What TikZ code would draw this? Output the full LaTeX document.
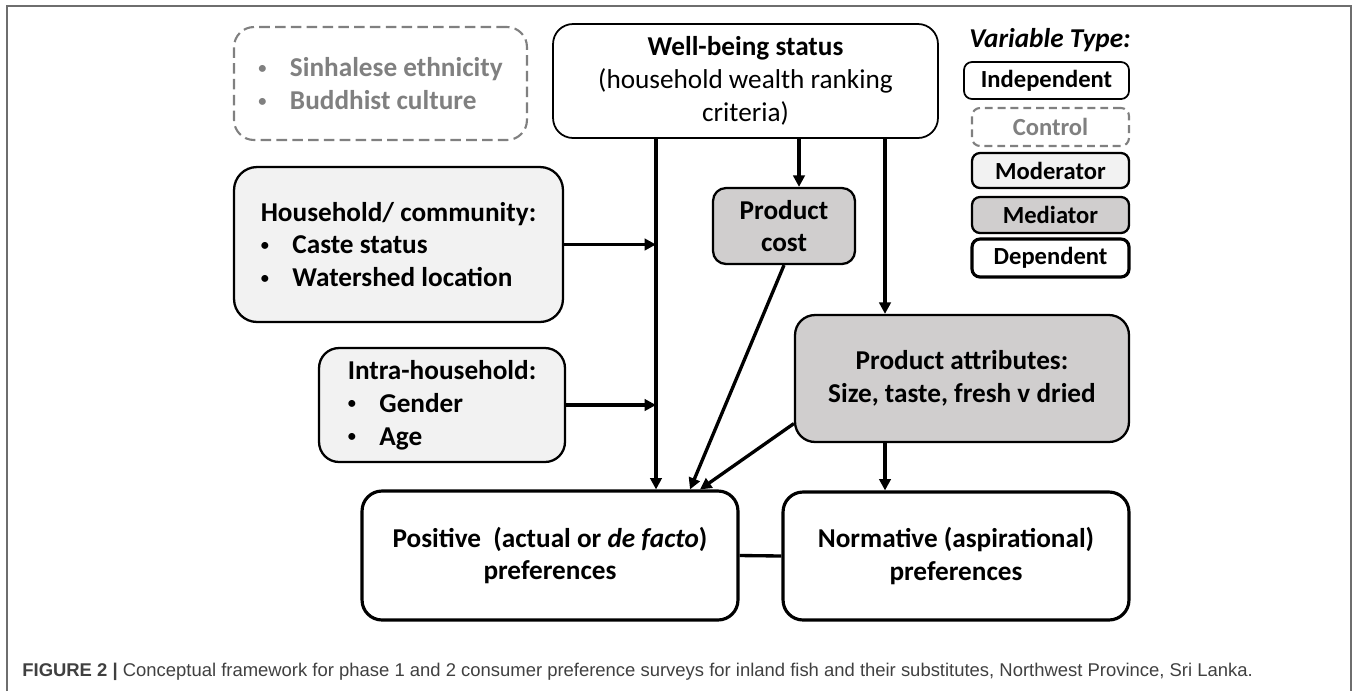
\documentclass[tikz,border=0pt]{standalone}
\usepackage{fontspec}
\usepackage{graphicx}
\setmainfont{Carlito}
\newfontfamily\capfont{Liberation Sans}
\usetikzlibrary{arrows.meta}

\definecolor{modfill}{RGB}{242,242,242}
\definecolor{medfill}{RGB}{208,206,206}
\definecolor{ctrlgray}{RGB}{128,128,128}
\definecolor{framegray}{RGB}{110,110,110}
\definecolor{captext}{RGB}{64,64,64}

\newcommand\bul{\makebox[18pt][l]{\raisebox{0.12em}{\scalebox{0.6}{\textbullet}}}}

\tikzset{
  box/.style={draw, rounded corners=0.4cm, inner sep=0pt, align=center,
    font=\fontsize{15.5}{18.7}\selectfont\bfseries},
  indepbox/.style={box, line width=1pt},
  ctrlbox/.style={box, draw=ctrlgray, text=ctrlgray, line width=1.2pt,
    dash pattern=on 6pt off 3pt},
  modbox/.style={box, fill=modfill, line width=1.3pt},
  medbox/.style={box, fill=medfill, line width=1.3pt},
  depbox/.style={box, line width=1.8pt},
  legend/.style={rounded corners=0.16cm, minimum width=3.14cm, minimum height=0.72cm,
    font=\fontsize{14}{16}\selectfont\bfseries},
  link/.style={line width=1.9pt},
}

\begin{document}
\begin{tikzpicture}[x=0.02cm, y=-0.02cm, >={Triangle[length=6.5pt,width=6.5pt]}]
  \useasboundingbox (0,0) rectangle (1358,691);
  \draw[framegray, line width=0.8pt] (7,691) -- (7,6) -- (1351,6) -- (1351,691);

  % variables
  \node[ctrlbox, align=left, minimum width=5.86cm, minimum height=2.26cm] (ctrl) at (380.5,83.5)
    {\bul Sinhalese ethnicity\\ \bul Buddhist culture};
  \node[indepbox, minimum width=7.70cm, minimum height=2.28cm] (well) at (745.5,81)
    {Well-being status\\ \mdseries (household wealth ranking\\ \mdseries criteria)};
  \node[modbox, align=left, minimum width=6.58cm, minimum height=3.10cm, rounded corners=0.46cm] (house) at (398.5,244.5)
    {Household/ community:\\ \bul Caste status\\ \bul Watershed location};
  \node[modbox, align=left, minimum width=4.92cm, minimum height=2.28cm] (intra) at (442,405)
    {Intra-household:\\ \bul Gender\\ \bul Age};
  \node[medbox, minimum width=2.84cm, minimum height=1.52cm, rounded corners=0.26cm] (cost) at (784,226)
    {Product\\ cost};
  \node[medbox, minimum width=6.68cm, minimum height=2.54cm] (attr) at (962,378.5)
    {Product attributes:\\ Size, taste, fresh v dried};
  \node[depbox, minimum width=7.52cm, minimum height=2.58cm] (pos) at (550,555.5)
    {Positive\ \ (actual or \textit{de facto})\\ preferences};
  \node[depbox, minimum width=6.92cm, minimum height=2.56cm] (norm) at (956,556)
    {Normative (aspirational)\\ preferences};

  % legend
  \node[font=\fontsize{15.5}{18}\selectfont\bfseries\itshape] (vtype) at (1050,40) {Variable Type:};
  \node[indepbox, legend, minimum width=3.30cm, minimum height=0.74cm] (l-indep) at (1046.5,80.5) {Independent};
  \node[ctrlbox, legend, dash pattern=on 4.5pt off 2.8pt, minimum height=0.76cm] (l-ctrl) at (1050.5,127) {Control};
  \node[modbox, legend, minimum height=0.70cm] (l-mod) at (1050.5,170.5) {Moderator};
  \node[medbox, legend] (l-med) at (1050.5,215) {Mediator};
  \node[depbox, legend, minimum height=0.76cm] (l-dep) at (1050.5,258) {Dependent};

  % connectors
  \coordinate (jn) at (656,0);
  \coordinate (cx) at (799,0);
  \coordinate (ax) at (885,0);
  \coordinate (c1) at (690,0);
  \coordinate (c2) at (700,0);
  \draw[link,->] (well.south -| jn) -- (pos.north -| jn);
  \draw[link,->] (house.east) -- (house.east -| jn);
  \draw[link,->] (intra.east) -- (intra.east -| jn);
  \draw[link,->] (well.south -| cx) -- (cost.north -| cx);
  \draw[link,->] (well.south -| ax) -- (attr.north -| ax);
  \draw[link,->] (cost.south) -- (pos.north -| c1);
  \draw[link,->] (attr.195) -- (pos.north -| c2);
  \draw[link,->] (attr.south -| ax) -- (norm.north -| ax);
  \draw[link] (pos.east) -- (norm.west);

  % caption
  \node[anchor=west, inner sep=0pt, text=captext, font=\capfont\fontsize{10.5}{12}\selectfont] (cap) at (22,672)
    {\textbf{FIGURE 2 |} Conceptual framework for phase 1 and 2 consumer preference surveys for inland fish and their substitutes, Northwest Province, Sri Lanka.};
\end{tikzpicture}
\end{document}
